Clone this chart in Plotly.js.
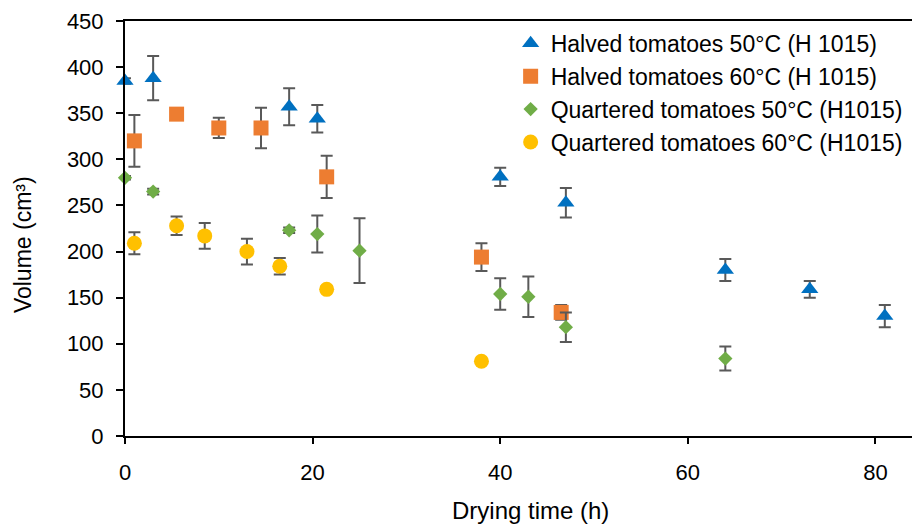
<!DOCTYPE html>
<html>
<head>
<meta charset="utf-8">
<script src="https://cdn.plot.ly/plotly-3.0.1.min.js"></script>
<style>html,body{margin:0;padding:0;background:#fff;}#chart{width:912px;height:525px;}</style>
</head>
<body>
<div id="chart"></div>
<script>
// Halved tomatoes 50°C
var h50_x = [0, 3, 17.5, 20.5, 40, 47, 64, 73, 81];
var h50_y = [385, 388, 357, 344, 281, 253, 180, 159, 130];
var h50_e = [3, 24, 20, 15, 10, 16, 12, 9, 12];
// Halved tomatoes 60°C
var h60_x = [1, 5.5, 10, 14.5, 21.5, 38, 46.5];
var h60_y = [320, 349, 334, 334, 281, 194, 134];
var h60_e = [28, 2, 11, 22, 23, 15, 8];
// Quartered tomatoes 50°C
var q50_x = [0, 3, 17.5, 20.5, 25, 40, 43, 47, 64];
var q50_y = [280, 265, 223, 219, 201, 154, 151, 118, 84];
var q50_e = [2, 3, 3, 20, 35, 17, 22, 16, 13];
// Quartered tomatoes 60°C
var q60_x = [1, 5.5, 8.5, 13, 16.5, 21.5, 38];
var q60_y = [209, 228, 217, 200, 184, 159, 81];
var q60_e = [12, 10, 14, 14, 9, 3, 2];

var names = ["Halved tomatoes 50°C (H 1015)", "Halved tomatoes 60°C (H 1015)",
             "Quartered tomatoes 50°C (H1015)", "Quartered tomatoes 60°C (H1015)"];
var xTicks = [0, 20, 40, 60, 80];
var yTicks = [0, 50, 100, 150, 200, 250, 300, 350, 400, 450];
var xTitle = 'Drying time (h)';
var yTitle = 'Volume (cm³)';

function mk(x, y, e, name, color, symbol, size, grp) {
  return {
    type: 'scatter', mode: 'markers', x: x, y: y, name: name,
    legendgroup: grp, cliponaxis: false,
    marker: {color: color, symbol: symbol, size: size, line: {width: 0}},
    error_y: {type: 'data', array: e, visible: true, color: '#595959', thickness: 2, width: 6}
  };
}

var data = [
  mk(h50_x, h50_y, h50_e, names[0], '#0070C0', 'triangle-up', 15, 'a'),
  mk(h60_x, h60_y, h60_e, names[1], '#ED7D31', 'square', 15, 'b'),
  mk(q50_x, q50_y, q50_e, names[2], '#70AD47', 'diamond', 11, 'c'),
  mk(q60_x, q60_y, q60_e, names[3], '#FFC000', 'circle', 15, 'd')
];

var font = "Arial, 'Liberation Sans', sans-serif";
var layout = {
  width: 912, height: 525,
  margin: {l: 125, r: 0, t: 21, b: 89},
  paper_bgcolor: '#fff', plot_bgcolor: '#fff',
  font: {family: font, size: 22, color: '#000'},
  showlegend: true,
  legend: {x: 0.49, y: 0.998, xanchor: 'left', yanchor: 'top', bgcolor: 'rgba(0,0,0,0)',
           font: {size: 23, family: font}, traceorder: 'grouped', tracegroupgap: 0},
  xaxis: {
    range: [0, 83.9], tickvals: xTicks, ticktext: xTicks.map(String),
    showgrid: false, zeroline: false, showline: true, linecolor: '#000', linewidth: 2,
    mirror: true, ticks: 'outside', ticklen: 6, tickwidth: 2, tickcolor: '#000',
    ticklabelstandoff: 10,
    tickfont: {size: 22}
  },
  yaxis: {
    range: [0, 450], tickvals: yTicks, ticktext: yTicks.map(String),
    showgrid: false, zeroline: false, showline: true, linecolor: '#000', linewidth: 2,
    ticks: 'outside', ticklen: 7, tickwidth: 2, tickcolor: '#000',
    ticklabelstandoff: 8,
    tickfont: {size: 22}
  },
  annotations: [
    {text: xTitle, xref: 'paper', yref: 'paper', x: 0.515, y: 0, yshift: -74,
     xanchor: 'center', yanchor: 'middle', showarrow: false, font: {size: 24}},
    {text: yTitle, xref: 'paper', yref: 'paper', x: 0, xshift: -102, y: 0.46,
     xanchor: 'center', yanchor: 'middle', textangle: -90, showarrow: false, font: {size: 23}}
  ]
};

Plotly.newPlot('chart', data, layout, {displayModeBar: false, staticPlot: true});
</script>
</body>
</html>
